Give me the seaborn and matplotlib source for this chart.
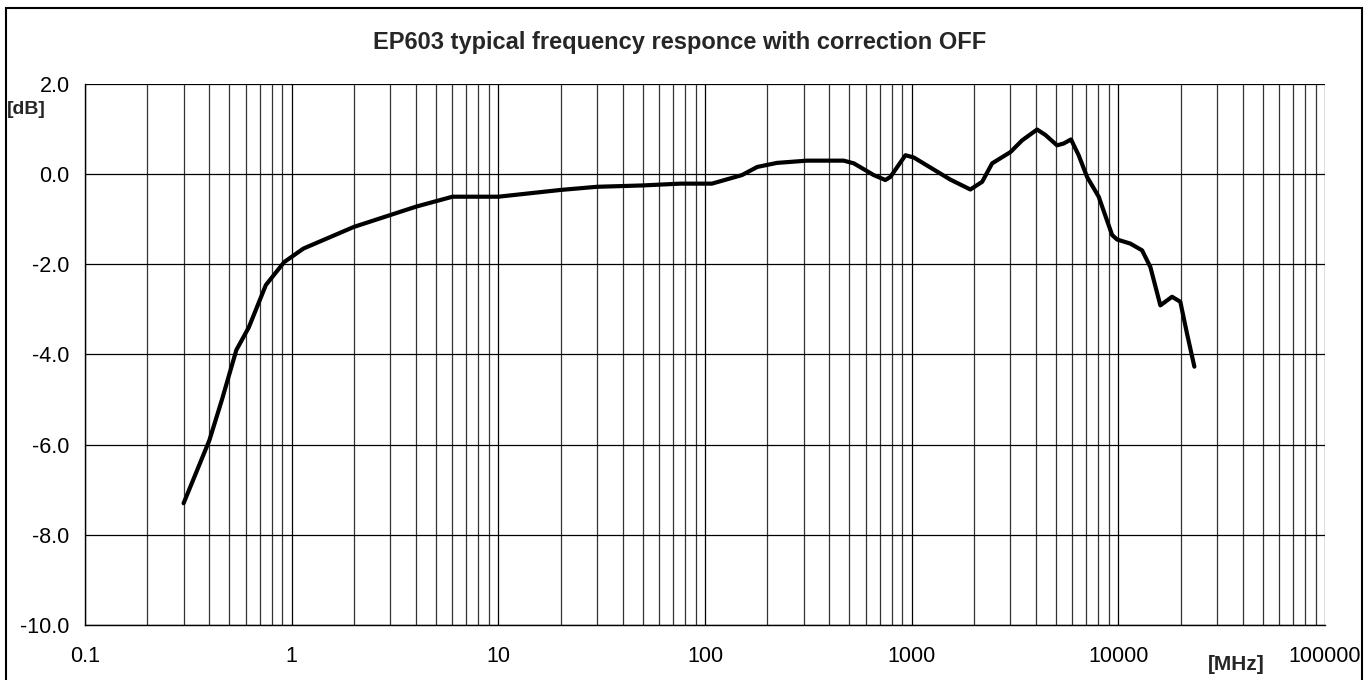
import matplotlib
matplotlib.use("Agg")
import matplotlib.pyplot as plt
import matplotlib.ticker as mticker
from matplotlib.patches import Rectangle
import seaborn as sns
import pandas as pd

freq_mhz = [0.3, 0.4, 0.46, 0.54, 0.62, 0.75, 0.92, 1.14, 2.0, 4.0, 6.0, 10, 20, 30, 50,
            76, 108, 151, 179, 223, 312, 469, 525, 655, 746, 789, 933, 1024, 1538, 1923,
            2193, 2451, 3006, 3423, 4045, 4436, 5050, 5437, 5902, 6427, 7057, 8035, 9330,
            9865, 11430, 13030, 14290, 15970, 18190, 19950, 21480, 23330]
response_db = [-7.3, -5.9, -5.0, -3.9, -3.4, -2.46, -1.95, -1.65, -1.17, -0.72, -0.5, -0.5,
               -0.35, -0.28, -0.25, -0.21, -0.21, -0.02, 0.16, 0.25, 0.3, 0.3, 0.24, -0.02,
               -0.13, -0.06, 0.42, 0.37, -0.12, -0.34, -0.17, 0.24, 0.49, 0.75, 0.99, 0.87,
               0.64, 0.68, 0.77, 0.42, -0.06, -0.5, -1.35, -1.45, -1.54, -1.69, -2.06, -2.91,
               -2.72, -2.83, -3.53, -4.27]
y_ticks = [2.0, 0.0, -2.0, -4.0, -6.0, -8.0, -10.0]
x_ticks = [0.1, 1, 10, 100, 1000, 10000, 100000]
title = "EP603 typical frequency responce with correction OFF"

sns.set_style("white")
plt.rcParams['font.family'] = ['Liberation Sans', 'DejaVu Sans']

df = pd.DataFrame({"freq": freq_mhz, "db": response_db})

fig = plt.figure(figsize=(13.72, 6.8), dpi=100)
ax = fig.add_axes([85 / 1372, 1 - 625 / 680, 1240 / 1372, 541 / 680])

sns.lineplot(data=df, x="freq", y="db", ax=ax, color="black", linewidth=3.0,
             estimator=None, sort=True, zorder=5,
             solid_joinstyle="round", solid_capstyle="round")

ax.set_xscale("log")
ax.set_xlim(0.1, 100000)
ax.set_ylim(-10, 2)
ax.set_xticks(x_ticks)
ax.xaxis.set_major_formatter(mticker.FuncFormatter(lambda v, p: f"{v:g}"))
ax.xaxis.set_minor_locator(mticker.LogLocator(base=10, subs=range(2, 10), numticks=100))
ax.xaxis.set_minor_formatter(mticker.NullFormatter())
ax.set_yticks(y_ticks)
ax.yaxis.set_major_formatter(mticker.FuncFormatter(lambda v, p: f"{v:.1f}"))

ax.grid(True, which="major", color="black", linewidth=0.9)
ax.grid(True, which="minor", axis="x", color="#333333", linewidth=0.9)
ax.tick_params(axis="x", which="major", direction="out", length=6, width=0.9,
               pad=9, labelsize=15.5, colors="black")
ax.tick_params(axis="x", which="minor", length=0)
ax.tick_params(axis="y", which="major", direction="out", length=6, width=0.9,
               pad=5, labelsize=15.5, colors="black")
ax.set_xlabel("")
ax.set_ylabel("")
for side in ["top", "right"]:
    ax.spines[side].set_visible(False)
for side in ["left", "bottom"]:
    ax.spines[side].set_color("black")
    ax.spines[side].set_linewidth(1.0)

fig.text(679.5 / 1372, 1 - 42 / 680, title, ha="center", va="center",
         fontsize=17, fontweight="bold")
fig.text(7 / 1372, 1 - 110 / 680, "[dB]", ha="left", va="center",
         fontsize=14, fontweight="bold")
fig.text(1236 / 1372, 1 - 665 / 680, "[MHz]", ha="center", va="center",
         fontsize=15, fontweight="bold")

fig.patches.append(Rectangle((6 / 1372, -0.05), 1356 / 1372, 1.05 - 8 / 680,
                             transform=fig.transFigure, fill=False,
                             edgecolor="black", linewidth=1.5))

fig.savefig("out.png", dpi=100)
